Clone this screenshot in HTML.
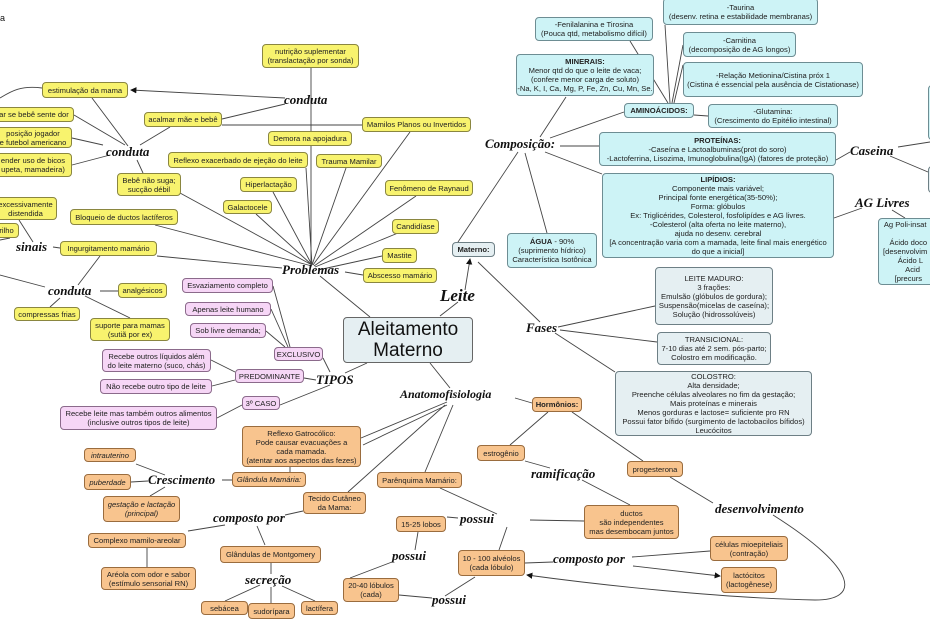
<!DOCTYPE html>
<html><head><meta charset="utf-8"><style>
html,body{margin:0;padding:0;background:#fff}
#c{position:relative;width:930px;height:620px;overflow:hidden;background:#fff;font-family:"Liberation Sans",sans-serif}
.b{position:absolute;box-sizing:border-box;border:1.3px solid #777;border-radius:4px;font-size:7.6px;line-height:9px;color:#222;text-align:center;display:flex;align-items:center;justify-content:center;flex-direction:column;white-space:nowrap;overflow:hidden}
.y{background:#f8f36e;border-color:#8a8640}
.p{background:#f6d6f6;border-color:#8b6a8b}
.o{background:#f8c48e;border-color:#9a6c3e}
.c{background:#cdf3f6;border-color:#6d8d93}
.g{background:#e5eff2;border-color:#6d7f85}
.s{position:absolute;font-family:"Liberation Serif",serif;font-style:italic;font-weight:bold;font-size:13px;color:#111;white-space:nowrap;line-height:13px}
b{font-weight:bold}
svg{position:absolute;left:0;top:0}
</style></head><body><div id="c">
<svg width="930" height="620" viewBox="0 0 930 620" fill="none" stroke="#444" stroke-width="0.9">
<defs><marker id="a" markerWidth="7" markerHeight="7" refX="6" refY="3.5" orient="auto"><path d="M0,0L7,3.5L0,7z" fill="#111" stroke="none"/></marker></defs>
<path d="M311,68V265M285,104L222,119M222,125L362,125M42,88C20,85 10,92 0,98"/>
<path d="M285,98L131,90" marker-end="url(#a)"/>
<path d="M92,98L128,146M74,115L125,145M72,138L103,145M72,165L110,155M170,127L140,145M137,160L143,173"/>
<path d="M312,265L180,193M312,266L155,225M282,268L157,256M312,265L256,214M312,265L273,192M312,265L306,168M312,265L346,168M313,265L410,132M314,266L416,196M315,267L398,233M318,270L382,256M345,272L363,275M320,276L370,317"/>
<path d="M19,220L33,242M10,238L0,240M53,247L60,248M100,256L78,285M100,291L118,291M60,298L50,307M85,296L130,318M45,287L0,275"/>
<path d="M273,286L290,347M271,309L288,347M266,331L285,347M323,358L330,372M304,378L316,380M211,360L235,372M212,386L235,380M280,405L330,385M217,418L242,405M345,373L367,363"/>
<path d="M440,316L458,302M478,262L540,322M458,242L518,152"/>
<path d="M465,290L470,259" marker-end="url(#a)"/>
<path d="M566,97L540,137M624,112L550,138M560,146L599,146M545,152L602,174M525,153L547,233"/>
<path d="M668,103L630,41M670,103L665,25M672,103L683,45M674,103L683,65M694,115L708,116"/>
<path d="M836,160L850,152M898,147L930,142M890,156L928,172M834,218L862,208M892,210L905,218"/>
<path d="M558,327L655,306M560,330L657,342M555,333L615,372"/>
<path d="M430,363L450,388M445,405L348,492M453,405L425,472M290,467L290,472M232,480L222,480M136,464L165,475M131,482L148,481M150,496L165,487M303,511L285,515M147,548L147,567M271,563L271,574M260,585L225,601M271,587L271,603M282,586L315,601M440,488L497,514M418,532L415,550M399,595L432,598M548,412L510,445M572,412L643,461M525,461L550,468M670,477L713,503M525,563L553,562"/>
<path d="M515,398L532,403M447,402L361,438M447,405L363,445M225,525L188,531M257,526L265,545M458,518L447,517M530,520L584,521M507,527L499,550M392,562L350,578M445,596L475,577M582,480L630,505M632,557L710,551M633,566L720,576" marker-end="url(#a)"/>
<path d="M773,515C860,570 860,600 815,600C720,598 600,585 527,575" marker-end="url(#a)"/>
</svg>
<div class="s" style="left:0;top:12px;font-style:normal;font-weight:normal;font-family:'Liberation Sans';font-size:9px">a</div>
<div class="b y" style="left:262px;top:44px;width:97px;height:24px">nutrição suplementar<br>(translactação por sonda)</div>
<div class="b y" style="left:42px;top:82px;width:86px;height:16px">estimulação da mama</div>
<div class="b y" style="left:-6px;top:107px;width:80px;height:15px">ar se bebê sente dor</div>
<div class="b y" style="left:-6px;top:127px;width:78px;height:21px">posição jogador<br>e futebol americano</div>
<div class="b y" style="left:-6px;top:153px;width:78px;height:24px">ender uso de bicos<br>upeta, mamadeira)</div>
<div class="b y" style="left:144px;top:112px;width:78px;height:15px">acalmar mãe e bebê</div>
<div class="b y" style="left:362px;top:117px;width:109px;height:15px">Mamilos Planos ou Invertidos</div>
<div class="b y" style="left:268px;top:131px;width:84px;height:15px">Demora na apojadura</div>
<div class="b y" style="left:168px;top:152px;width:140px;height:16px">Reflexo exacerbado de ejeção do leite</div>
<div class="b y" style="left:316px;top:154px;width:66px;height:14px">Trauma Mamilar</div>
<div class="b y" style="left:117px;top:173px;width:64px;height:23px">Bebê não suga;<br>sucção débil</div>
<div class="b y" style="left:240px;top:177px;width:57px;height:15px">Hiperlactação</div>
<div class="b y" style="left:385px;top:180px;width:88px;height:16px">Fenômeno de Raynaud</div>
<div class="b y" style="left:223px;top:200px;width:49px;height:14px">Galactocele</div>
<div class="b y" style="left:-6px;top:197px;width:63px;height:23px">excessivamente<br>distendida</div>
<div class="b y" style="left:70px;top:209px;width:108px;height:16px">Bloqueio de ductos lactíferos</div>
<div class="b y" style="left:-6px;top:223px;width:25px;height:15px">rilho</div>
<div class="b y" style="left:392px;top:219px;width:47px;height:15px">Candidíase</div>
<div class="b y" style="left:60px;top:241px;width:97px;height:15px">Ingurgitamento mamário</div>
<div class="b y" style="left:382px;top:248px;width:35px;height:15px">Mastite</div>
<div class="b y" style="left:363px;top:268px;width:74px;height:15px">Abscesso mamário</div>
<div class="b y" style="left:118px;top:283px;width:49px;height:15px">analgésicos</div>
<div class="b y" style="left:14px;top:307px;width:66px;height:14px">compressas frias</div>
<div class="b y" style="left:90px;top:318px;width:80px;height:23px">suporte para mamas<br>(sutiã por ex)</div>
<div class="b p" style="left:182px;top:278px;width:91px;height:15px">Esvaziamento completo</div>
<div class="b p" style="left:185px;top:302px;width:86px;height:14px">Apenas leite humano</div>
<div class="b p" style="left:190px;top:323px;width:76px;height:15px">Sob livre demanda;</div>
<div class="b p" style="left:274px;top:347px;width:49px;height:14px">EXCLUSIVO</div>
<div class="b p" style="left:102px;top:349px;width:109px;height:23px">Recebe outros líquidos além<br>do leite materno (suco, chás)</div>
<div class="b p" style="left:235px;top:369px;width:69px;height:14px">PREDOMINANTE</div>
<div class="b p" style="left:100px;top:379px;width:112px;height:15px">Não recebe outro tipo de leite</div>
<div class="b p" style="left:242px;top:396px;width:38px;height:14px">3º CASO</div>
<div class="b p" style="left:60px;top:406px;width:157px;height:24px">Recebe leite mas também outros alimentos<br>(inclusive outros tipos de leite)</div>
<div class="b g" style="left:343px;top:317px;width:130px;height:46px;font-size:19px;line-height:21px;color:#111;border-color:#666">Aleitamento<br>Materno</div>
<div class="b g" style="left:452px;top:242px;width:43px;height:15px"><b>Materno:</b></div>
<div class="b o" style="left:242px;top:426px;width:119px;height:41px">Reflexo Gatrocólico:<br>Pode causar evacuações a<br>cada mamada.<br>(atentar aos aspectos das fezes)</div>
<div class="b o" style="left:84px;top:448px;width:52px;height:14px"><i>intrauterino</i></div>
<div class="b o" style="left:84px;top:474px;width:47px;height:16px"><i>puberdade</i></div>
<div class="b o" style="left:232px;top:472px;width:74px;height:15px"><i>Glândula Mamária:</i></div>
<div class="b o" style="left:103px;top:496px;width:77px;height:26px"><i>gestação e lactação<br>(principal)</i></div>
<div class="b o" style="left:303px;top:492px;width:63px;height:22px">Tecido Cutâneo<br>da Mama:</div>
<div class="b o" style="left:377px;top:472px;width:85px;height:16px">Parênquima Mamário:</div>
<div class="b o" style="left:88px;top:533px;width:98px;height:15px">Complexo mamilo-areolar</div>
<div class="b o" style="left:220px;top:546px;width:101px;height:17px">Glândulas de Montgomery</div>
<div class="b o" style="left:101px;top:567px;width:95px;height:23px">Aréola com odor e sabor<br>(estímulo sensorial RN)</div>
<div class="b o" style="left:396px;top:516px;width:50px;height:16px">15-25 lobos</div>
<div class="b o" style="left:343px;top:578px;width:56px;height:24px">20-40 lóbulos<br>(cada)</div>
<div class="b o" style="left:201px;top:601px;width:47px;height:14px">sebácea</div>
<div class="b o" style="left:248px;top:603px;width:47px;height:16px">sudorípara</div>
<div class="b o" style="left:301px;top:601px;width:37px;height:14px">lactífera</div>
<div class="b o" style="left:458px;top:550px;width:67px;height:26px">10 - 100 alvéolos<br>(cada lóbulo)</div>
<div class="b o" style="left:532px;top:397px;width:50px;height:15px"><b>Hormônios:</b></div>
<div class="b o" style="left:477px;top:445px;width:48px;height:16px">estrogênio</div>
<div class="b o" style="left:627px;top:461px;width:56px;height:16px">progesterona</div>
<div class="b o" style="left:584px;top:505px;width:95px;height:34px">ductos<br>são independentes<br>mas desembocam juntos</div>
<div class="b o" style="left:710px;top:536px;width:78px;height:25px">células mioepiteliais<br>(contração)</div>
<div class="b o" style="left:721px;top:567px;width:56px;height:26px">lactócitos<br>(lactogênese)</div>
<div class="b c" style="left:535px;top:17px;width:118px;height:24px">-Fenilalanina e Tirosina<br>(Pouca qtd, metabolismo difícil)</div>
<div class="b c" style="left:663px;top:-2px;width:155px;height:27px">-Taurina<br>(desenv. retina e estabilidade membranas)</div>
<div class="b c" style="left:683px;top:32px;width:113px;height:25px">-Carnitina<br>(decomposição de AG longos)</div>
<div class="b c" style="left:516px;top:54px;width:138px;height:42px"><b>MINERAIS:</b>Menor qtd do que o leite de vaca;<br>(confere menor carga de soluto)<br>-Na, K, I, Ca, Mg, P, Fe, Zn, Cu, Mn, Se.</div>
<div class="b c" style="left:683px;top:62px;width:180px;height:35px">-Relação Metionina/Cistina próx 1<br>(Cistina é essencial pela ausência de Cistationase)</div>
<div class="b c" style="left:624px;top:103px;width:70px;height:15px"><b>AMINOÁCIDOS:</b></div>
<div class="b c" style="left:708px;top:104px;width:130px;height:24px">-Glutamina:<br>(Crescimento do Epitélio intestinal)</div>
<div class="b c" style="left:599px;top:132px;width:237px;height:34px"><b>PROTEÍNAS:</b>-Caseína e Lactoalbuminas(prot do soro)<br>-Lactoferrina, Lisozima, Imunoglobulina(IgA) (fatores de proteção)</div>
<div class="b c" style="left:602px;top:173px;width:232px;height:85px"><b>LIPÍDIOS:</b>Componente mais variável;<br>Principal fonte energética(35-50%);<br>Forma: glóbulos<br>Ex: Triglicérides, Colesterol, fosfolipídes e AG livres.<br>-Colesterol (alta oferta no leite materno),<br>ajuda no desenv. cerebral<br>[A concentração varia com a mamada, leite final mais energético<br>do que a inicial]</div>
<div class="b c" style="left:507px;top:233px;width:90px;height:35px"><span><b>ÁGUA</b> - 90%</span><span>(suprimento hídrico)</span><span>Característica Isotônica</span></div>
<div class="b c" style="left:878px;top:218px;width:60px;height:67px;align-items:flex-start;padding-left:4px">Ag Poli-insat<br><br>&nbsp;&nbsp;&nbsp;Ácido doco<br>[desenvolvim<br>&nbsp;&nbsp;&nbsp;&nbsp;&nbsp;Ácido L<br>&nbsp;&nbsp;&nbsp;&nbsp;&nbsp;&nbsp;&nbsp;Acid<br>&nbsp;&nbsp;&nbsp;[precurs</div>
<div class="b c" style="left:928px;top:85px;width:10px;height:55px"></div>
<div class="b g" style="left:928px;top:166px;width:10px;height:27px"></div>
<div class="b g" style="left:655px;top:267px;width:118px;height:58px">LEITE MADURO:<br>3 frações:<br>Emulsão (glóbulos de gordura);<br>Suspensão(micelas de caseína);<br>Solução (hidrossolúveis)</div>
<div class="b g" style="left:657px;top:332px;width:114px;height:33px">TRANSICIONAL:<br>7-10 dias até 2 sem. pós-parto;<br>Colostro em modificação.</div>
<div class="b g" style="left:615px;top:371px;width:197px;height:65px">COLOSTRO:<br>Alta densidade;<br>Preenche células alveolares no fim da gestação;<br>Mais proteínas e minerais<br>Menos gorduras e lactose= suficiente pro RN<br>Possui fator bífido (surgimento de lactobacilos bífidos)<br>Leucócitos</div>
<div class="s" style="left:284px;top:93px">conduta</div>
<div class="s" style="left:106px;top:145px">conduta</div>
<div class="s" style="left:16px;top:240px">sinais</div>
<div class="s" style="left:48px;top:284px">conduta</div>
<div class="s" style="left:282px;top:263px">Problemas</div>
<div class="s" style="left:440px;top:287px;font-size:17px;line-height:17px">Leite</div>
<div class="s" style="left:316px;top:373px">TIPOS</div>
<div class="s" style="left:400px;top:388px;font-size:12px">Anatomofisiologia</div>
<div class="s" style="left:485px;top:137px">Composição:</div>
<div class="s" style="left:850px;top:144px">Caseina</div>
<div class="s" style="left:855px;top:196px">AG Livres</div>
<div class="s" style="left:526px;top:321px">Fases</div>
<div class="s" style="left:531px;top:467px">ramificação</div>
<div class="s" style="left:715px;top:502px">desenvolvimento</div>
<div class="s" style="left:148px;top:473px">Crescimento</div>
<div class="s" style="left:213px;top:511px">composto por</div>
<div class="s" style="left:245px;top:573px">secreção</div>
<div class="s" style="left:460px;top:512px">possui</div>
<div class="s" style="left:392px;top:549px">possui</div>
<div class="s" style="left:553px;top:552px">composto por</div>
<div class="s" style="left:432px;top:593px">possui</div>
</div></body></html>
